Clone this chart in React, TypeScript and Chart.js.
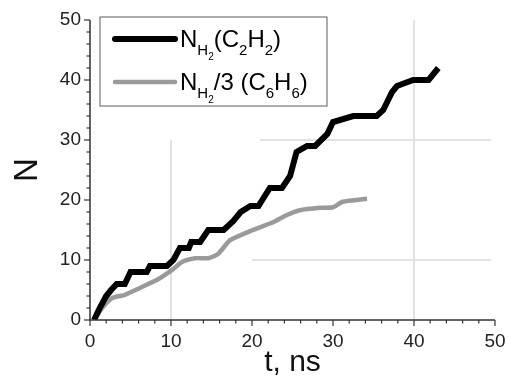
import React, { useEffect, useRef } from "react";
import { Chart, registerables } from "chart.js";
Chart.register(...registerables);

// Black series: N_H2 (C2H2)
const blackT = [0.5, 1.2, 2.0, 2.6, 3.3, 4.3, 5.0, 7.0, 7.4, 9.5, 10.3, 11.1, 12.2, 12.5, 13.6, 14.6, 16.5, 17.7, 18.6, 19.8, 20.8, 22.2, 23.7, 24.7, 25.5, 26.8, 27.8, 29.3, 30.0, 32.5, 35.4, 36.2, 37.3, 37.9, 39.9, 41.8, 42.4, 43.0];
const blackN = [0, 2, 4, 5, 6, 6, 8, 8, 9, 9, 10, 12, 12, 13, 13, 15, 15, 16.5, 18, 19, 19, 22, 22, 24, 28, 29, 29, 31, 33, 34, 34, 35, 38, 39, 40, 40, 41, 42];

// Gray series: N_H2/3 (C6H6)
const grayT = [0.5, 1.5, 2.8, 4.3, 6.4, 8.3, 10.1, 11.4, 13.0, 14.6, 15.8, 17.3, 20.1, 22.6, 24.3, 25.9, 28.4, 30.0, 31.2, 34.2];
const grayN = [0, 2, 3.7, 4.2, 5.5, 6.7, 8.3, 9.7, 10.3, 10.3, 11, 13.3, 15, 16.3, 17.5, 18.3, 18.7, 18.8, 19.7, 20.2];

const xTickLabels = [0, 10, 20, 30, 40, 50];
const yTickLabels = [0, 10, 20, 30, 40, 50];

const legend1: [string, number][] = [["N", 0], ["H", 1], ["2", 2], ["(C", 0], ["2", 1], ["H", 0], ["2", 1], [")", 0]];
const legend2: [string, number][] = [["N", 0], ["H", 1], ["2", 2], ["/3 (C", 0], ["6", 1], ["H", 0], ["6", 1], [")", 0]];

const FONT = "'Liberation Sans', Arial, Helvetica, sans-serif";

const decoPlugin = {
  id: "deco",
  beforeDatasetsDraw(chart: any) {
    const { ctx } = chart;
    const xs = chart.scales.x;
    const ys = chart.scales.y;
    ctx.save();
    ctx.strokeStyle = "#e2e2e2";
    ctx.lineWidth = 2;
    const seg = (x1: number, y1: number, x2: number, y2: number) => {
      ctx.beginPath();
      ctx.moveTo(xs.getPixelForValue(x1), ys.getPixelForValue(y1));
      ctx.lineTo(xs.getPixelForValue(x2), ys.getPixelForValue(y2));
      ctx.stroke();
    };
    seg(10, 0, 10, 30);
    seg(40, 0, 40, 50);
    seg(21, 30, 49.5, 30);
    seg(20, 10, 49.5, 10);
    ctx.restore();
  },
  afterDraw(chart: any) {
    const { ctx, chartArea } = chart;
    const xs = chart.scales.x;
    const ys = chart.scales.y;
    const L = chartArea.left, B = chartArea.bottom, T = chartArea.top, R = chartArea.right;
    ctx.save();
    ctx.strokeStyle = "#333";
    ctx.lineWidth = 1.5;
    ctx.beginPath();
    ctx.moveTo(L, T);
    ctx.lineTo(L, B);
    ctx.lineTo(R, B);
    ctx.stroke();
    ctx.lineWidth = 1.2;
    for (let v = 0; v <= 50; v += 2) {
      const major = v % 10 === 0;
      const len = major ? 6 : 3.5;
      const px = xs.getPixelForValue(v);
      ctx.beginPath();
      ctx.moveTo(px, B);
      ctx.lineTo(px, B + len);
      ctx.stroke();
      const py = ys.getPixelForValue(v);
      ctx.beginPath();
      ctx.moveTo(L, py);
      ctx.lineTo(L - len, py);
      ctx.stroke();
    }
    // legend
    const bx = L + 10, by = T - 3, bw = 227, bh = 89;
    ctx.fillStyle = "#fff";
    ctx.fillRect(bx, by, bw, bh);
    ctx.strokeStyle = "#777";
    ctx.lineWidth = 1.2;
    ctx.strokeRect(bx, by, bw, bh);
    const entries = [
      { parts: legend1, color: "#000", width: 6, y: by + 22 },
      { parts: legend2, color: "#9a9a9a", width: 4.5, y: by + 65 },
    ];
    const sizes = [24, 15, 10];
    const offs = [0, 8, 13];
    for (const e of entries) {
      ctx.strokeStyle = e.color;
      ctx.lineWidth = e.width;
      ctx.lineCap = "round";
      ctx.beginPath();
      ctx.moveTo(bx + 15, e.y);
      ctx.lineTo(bx + 75, e.y);
      ctx.stroke();
      let x = bx + 80;
      const base = e.y + 8;
      ctx.fillStyle = "#000";
      ctx.textBaseline = "alphabetic";
      ctx.textAlign = "left";
      for (const [t, lvl] of e.parts) {
        ctx.font = `${sizes[lvl]}px ${FONT}`;
        ctx.fillText(t, x, base + offs[lvl]);
        x += ctx.measureText(t).width;
      }
    }
    ctx.restore();
  },
};

export default function App() {
  const ref = useRef<HTMLCanvasElement | null>(null);
  useEffect(() => {
    document.body.style.margin = "0";
    const ctx = ref.current!.getContext("2d")!;
    const chart = new Chart(ctx, {
      type: "line",
      data: {
        datasets: [
          {
            label: "black",
            data: blackT.map((t, i) => ({ x: t, y: blackN[i] })),
            borderColor: "#000",
            borderWidth: 6,
            pointRadius: 0,
            fill: false,
            tension: 0,
            borderJoinStyle: "miter",
          },
          {
            label: "gray",
            data: grayT.map((t, i) => ({ x: t, y: grayN[i] })),
            borderColor: "#9a9a9a",
            borderWidth: 4.5,
            pointRadius: 0,
            fill: false,
            tension: 0.2,
          },
        ],
      },
      options: {
        animation: false,
        responsive: false,
        maintainAspectRatio: false,
        layout: { padding: { top: 20, right: 14, left: 0, bottom: 0 } },
        plugins: { legend: { display: false }, tooltip: { enabled: false } },
        scales: {
          x: {
            type: "linear",
            min: 0,
            max: 50,
            afterFit: (s: any) => { s.height = 57; s.paddingRight = 0; s.paddingLeft = 0; },
            afterBuildTicks: (s: any) => { s.ticks = xTickLabels.map((v) => ({ value: v })); },
            grid: { display: false, drawTicks: false },
            border: { display: false },
            ticks: { color: "#222", padding: 10, font: { family: FONT, size: 19 }, maxRotation: 0 },
            title: { display: true, text: "t, ns", color: "#111", font: { family: FONT, size: 30, lineHeight: 1 }, padding: { top: 0, bottom: -1 } },
          },
          y: {
            type: "linear",
            min: 0,
            max: 50,
            afterFit: (s: any) => { s.width = 90; s.paddingTop = 0; s.paddingBottom = 0; },
            afterBuildTicks: (s: any) => { s.ticks = yTickLabels.map((v) => ({ value: v })); },
            grid: { display: false, drawTicks: false },
            border: { display: false },
            ticks: { color: "#222", padding: 9, font: { family: FONT, size: 19 } },
            title: { display: true, text: "N", color: "#111", font: { family: FONT, size: 33, lineHeight: 1 }, padding: { top: 11, bottom: 0 } },
          },
        },
      },
      plugins: [decoPlugin],
    });
    return () => chart.destroy();
  }, []);
  return (
    <div style={{ position: "fixed", left: 0, top: 0, width: 509, height: 377, background: "#fff" }}>
      <canvas ref={ref} width={509} height={377} style={{ width: 509, height: 377, display: "block" }} />
    </div>
  );
}
